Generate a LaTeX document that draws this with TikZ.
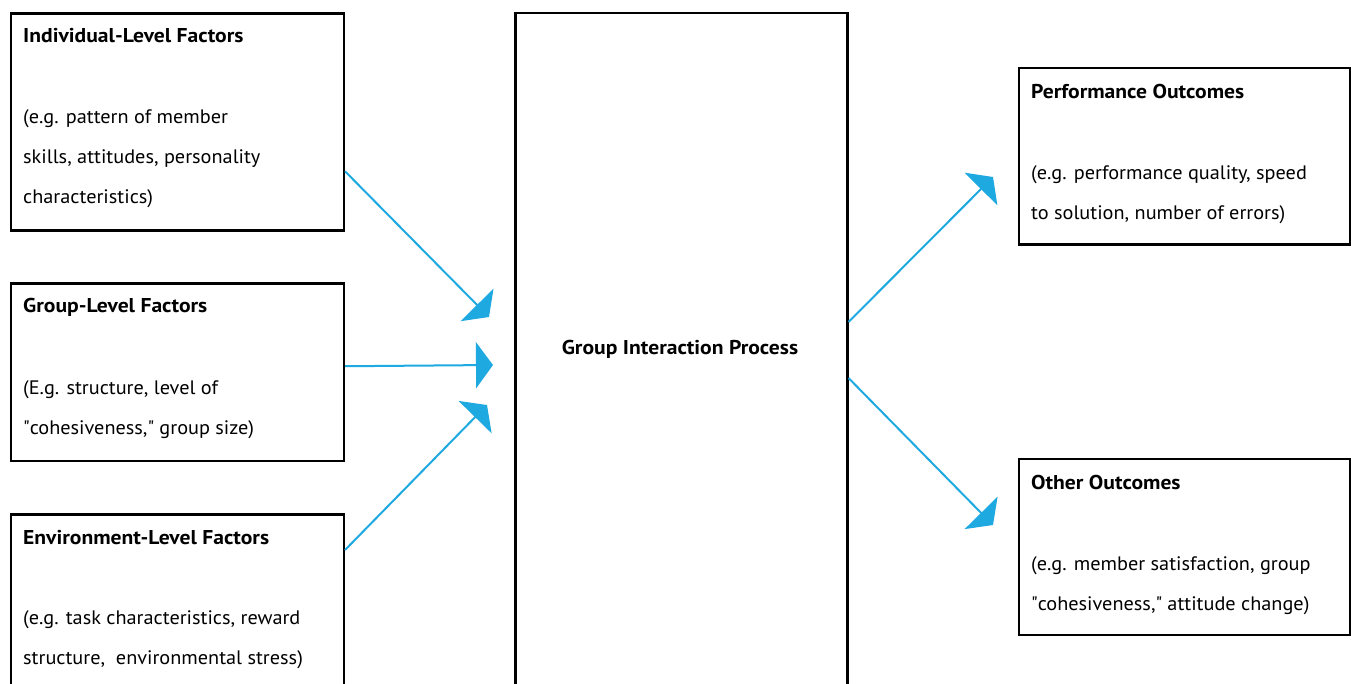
\documentclass[tikz,border=0pt]{standalone}
\usepackage{fontspec}
\setmainfont{PT Sans}[UprightFeatures={FakeStretch=1.04}, BoldFeatures={FakeStretch=1.08}]
\usetikzlibrary{arrows.meta}
\definecolor{arrowblue}{RGB}{31,169,225}
\tikzset{
  box/.style={draw=black, line width=2.5pt, inner sep=0pt, anchor=north west},
  ttl/.style={anchor=base west, inner sep=0pt, font=\fontsize{20}{20}\selectfont\bfseries},
  body/.style={anchor=base west, inner sep=0pt, font=\fontsize{19.5}{19.5}\selectfont},
  flow/.style={draw=arrowblue, line width=2pt, -{Triangle[width=46pt,length=17pt]}}
}
\begin{document}
\begin{tikzpicture}[x=1pt,y=-1pt]
\clip (0,0) rectangle (1351,684);
\fill[white] (0,0) rectangle (1351,684);
% boxes
\node[box, minimum width=333pt, minimum height=217pt] (ind) at (9.5,12.5) {};
\node[box, minimum width=333pt, minimum height=177pt] (grp) at (9.5,282.5) {};
\node[box, minimum width=333pt, minimum height=220pt] (env) at (9.5,513) {};
\node[box, minimum width=332pt, minimum height=720pt] (gip) at (514,12) {};
\node[box, minimum width=331pt, minimum height=176.5pt] (perf) at (1017.5,67) {};
\node[box, minimum width=331pt, minimum height=176pt] (oth) at (1017.5,457.5) {};
% texts
\node[ttl] (indT) at (23,43) {Individual-Level Factors};
\node[body] (indA) at (23,124) {(e.g. pattern of member};
\node[body] (indB) at (23,164) {skills, attitudes, personality};
\node[body] (indC) at (23,204) {characteristics)};
\node[ttl] (grpT) at (23,313) {Group-Level Factors};
\node[body] (grpA) at (23,394) {(E.g. structure, level of};
\node[body] (grpB) at (23,434) {\textquotedbl cohesiveness,\textquotedbl{} group size)};
\node[ttl] (envT) at (23,544) {Environment-Level Factors};
\node[body] (envA) at (23,624) {(e.g. task characteristics, reward};
\node[body] (envB) at (23,664) {structure,\ \ environmental stress)};
\node[ttl, anchor=base] (gipT) at (680,354) {Group Interaction Process};
\node[ttl] (perfT) at (1031,99) {Performance Outcomes};
\node[body] (perfA) at (1031,180) {(e.g. performance quality, speed};
\node[body] (perfB) at (1031,220) {to solution, number of errors)};
\node[ttl] (othT) at (1031,489) {Other Outcomes};
\node[body] (othA) at (1031,570) {(e.g. member satisfaction, group};
\node[body] (othB) at (1031,610) {\textquotedbl cohesiveness,\textquotedbl{} attitude change)};
% arrow tips
\coordinate (t1) at (489,317);
\coordinate (t2) at (493,365);
\coordinate (t3) at (487,405);
\coordinate (t4) at (993,177);
\coordinate (t5) at (993,525);
\draw[flow] ([yshift=-49pt]ind.east) -- (t1);
\draw[flow] ([yshift=6pt]grp.east) -- (t2);
\draw[flow] ([yshift=-37pt]env.north east) -- (t3);
\draw[flow] ([yshift=-310pt]gip.north east) -- (t4);
\draw[flow] ([yshift=-366pt]gip.north east) -- (t5);
\end{tikzpicture}
\end{document}
